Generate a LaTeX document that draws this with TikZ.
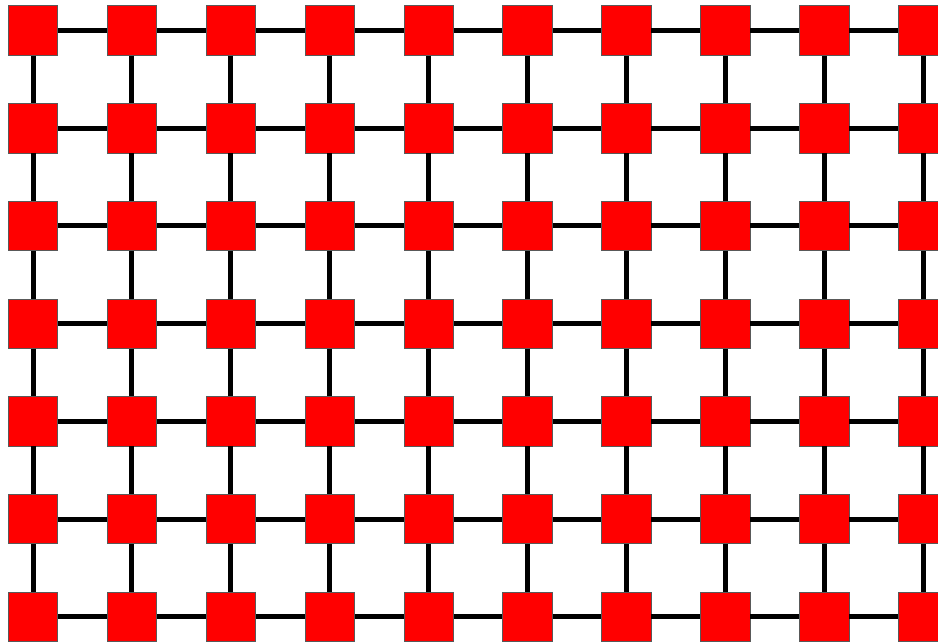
\documentclass[tikz,border=0pt]{standalone}
\begin{document}
\begin{tikzpicture}[x=1pt,y=-1pt,
  cell/.style={rectangle,fill=red,draw=black!65,line width=0.6pt,minimum size=49.5pt,inner sep=0pt},
  link/.style={line width=5pt,black}]
\useasboundingbox (0,0) rectangle (938,643);
\foreach \i in {0,...,9}{
  \foreach \j in {0,...,6}{
    \node[cell] (n\i-\j) at ({33+98.9*\i},{30.5+97.7*\j}) {};
  }
}
\foreach \i in {0,...,9}{
  \foreach \j [evaluate=\j as \k using int(\j+1)] in {0,...,5}{
    \draw[link] (n\i-\j) -- (n\i-\k);
  }
}
\foreach \j in {0,...,6}{
  \foreach \i [evaluate=\i as \k using int(\i+1)] in {0,...,8}{
    \draw[link] (n\i-\j) -- (n\k-\j);
  }
}
\end{tikzpicture}
\end{document}
